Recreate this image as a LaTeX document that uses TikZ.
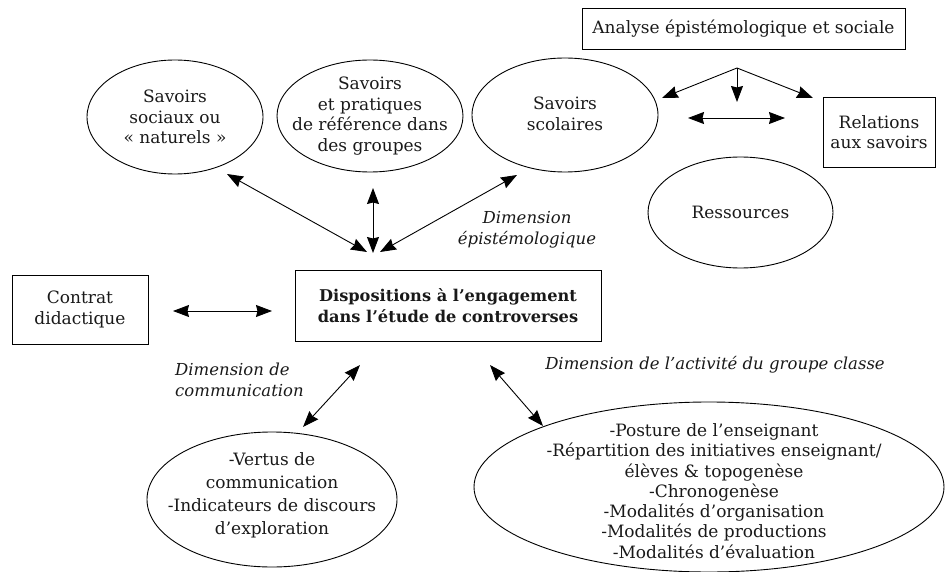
\documentclass[tikz,border=0pt]{standalone}
\usepackage{fontspec}
\setmainfont{DejaVu Serif}
\usetikzlibrary{shapes.geometric,arrows.meta}
\tikzset{
  every node/.style={font=\fontsize{17}{20.5}\selectfont, text=black!90, align=center, inner sep=0pt},
  boxnode/.style={draw, line width=0.9pt, rectangle},
  ellnode/.style={draw, line width=0.9pt, ellipse},
  dimlabel/.style={font=\fontsize{16.5}{20.5}\selectfont\itshape},
  biarrow/.style={line width=0.9pt, {Stealth[length=16pt,width=12pt,inset=1.5pt]}-{Stealth[length=16pt,width=12pt,inset=1.5pt]}},
  onearrow/.style={line width=0.9pt, -{Stealth[length=16pt,width=12pt,inset=1.5pt]}}
}
\begin{document}
\begin{tikzpicture}[x=1pt,y=-1pt]
\useasboundingbox (0,0) rectangle (945,572);
% boxes
\node[boxnode, minimum width=323pt, minimum height=41pt] (analyse) at (743.5,28.5) {Analyse épistémologique et sociale};
\node[boxnode, minimum width=112pt, minimum height=70pt] (relations) at (879,132) {Relations\\aux savoirs};
\node[boxnode, minimum width=136pt, minimum height=69pt] (contrat) at (80,309.5) {Contrat\\didactique};
\node[boxnode, minimum width=306pt, minimum height=71pt, font=\fontsize{16.2}{21}\selectfont\bfseries] (dispo) at (448,305.5) {Dispositions à l’engagement\\dans l’étude de controverses};
% ellipses (outlines)
\node[ellnode, minimum width=176pt, minimum height=114pt] (e1) at (175,117) {};
\node[ellnode, minimum width=186pt, minimum height=112pt] (e2) at (370,116) {};
\node[ellnode, minimum width=186pt, minimum height=114pt] (e3) at (565,115) {};
\node[ellnode, minimum width=185pt, minimum height=111pt] (ress) at (740.5,212.5) {};
\node[ellnode, minimum width=250pt, minimum height=135pt] (vertus) at (272,499.5) {};
\node[ellnode, minimum width=470pt, minimum height=170pt] (activ) at (709,487) {};
% ellipse texts
\node (e1t) at (e1) {Savoirs\\sociaux ou\\« naturels »};
\node (e2t) at (e2) {Savoirs\\et pratiques\\de référence dans\\des groupes};
\node (e3t) at (565,114) {Savoirs\\scolaires};
\node (resst) at (ress) {Ressources};
\node[font=\fontsize{17}{23}\selectfont] (vertust) at (272,495) {-Vertus de\\communication\\-Indicateurs de discours\\d'exploration};
\node[font=\fontsize{17}{20.3}\selectfont] (activt) at (714,491) {-Posture de l'enseignant\\-Répartition des initiatives enseignant/\\élèves \& topogenèse\\-Chronogenèse\\-Modalités d'organisation\\-Modalités de productions\\-Modalités d'évaluation};
% dimension labels
\node[dimlabel] (dimep) at (527,230) {Dimension\\épistémologique};
\node[dimlabel, align=left, anchor=west] (dimcom) at (175,380) {Dimension de\\communication};
\node[dimlabel] (dimact) at (715,365) {Dimension de l’activité du groupe classe};
% arrow endpoints
\coordinate (a1s) at (227,174); \coordinate (a1e) at (367,252);
\coordinate (a2s) at (373,188); \coordinate (a2e) at (373,253);
\coordinate (a3s) at (517,175); \coordinate (a3e) at (380,252);
\coordinate (a4s) at (173,311); \coordinate (a4e) at (272,311);
\coordinate (a5s) at (303,427); \coordinate (a5e) at (360,365);
\coordinate (a6s) at (490,365); \coordinate (a6e) at (543,426);
\coordinate (src) at (737,68);
\coordinate (t1) at (662,98); \coordinate (t2) at (737,102); \coordinate (t3) at (813,98);
\coordinate (a8s) at (688,118); \coordinate (a8e) at (785,118);
% arrows
\draw[biarrow] (a1s) -- (a1e);
\draw[biarrow] (a2s) -- (a2e);
\draw[biarrow] (a3s) -- (a3e);
\draw[biarrow] (a4s) -- (a4e);
\draw[biarrow] (a5s) -- (a5e);
\draw[biarrow] (a6s) -- (a6e);
\draw[biarrow] (a8s) -- (a8e);
\draw[onearrow] (src) -- (t1);
\draw[onearrow] (src) -- (t2);
\draw[onearrow] (src) -- (t3);
\end{tikzpicture}
\end{document}
